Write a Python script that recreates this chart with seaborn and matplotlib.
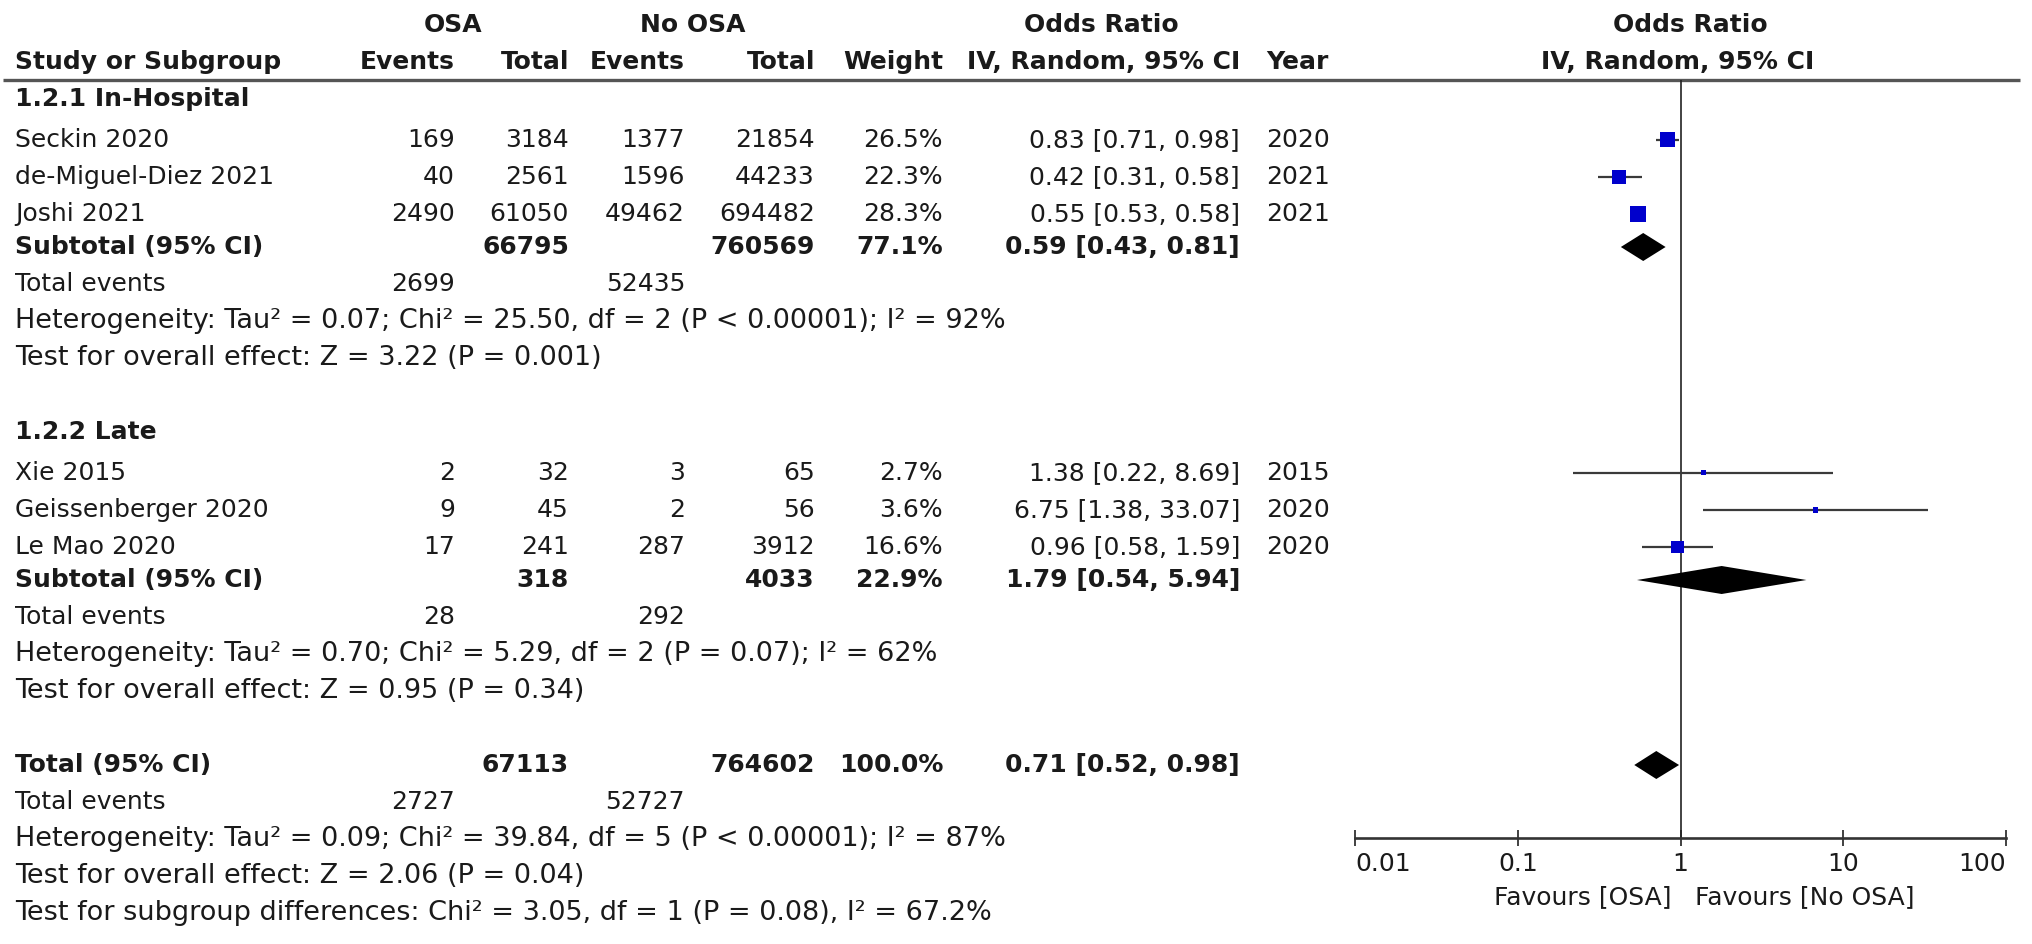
import numpy as np
import pandas as pd
import matplotlib
matplotlib.use("Agg")
import matplotlib.pyplot as plt
import seaborn as sns

# study data, subgroup 1.2.1 In-Hospital
studies1 = ["Seckin 2020", "de-Miguel-Diez 2021", "Joshi 2021"]
ev_osa1 = [169, 40, 2490]
tot_osa1 = [3184, 2561, 61050]
ev_no1 = [1377, 1596, 49462]
tot_no1 = [21854, 44233, 694482]
weight1 = [26.5, 22.3, 28.3]
or1 = [0.83, 0.42, 0.55]
lo1 = [0.71, 0.31, 0.53]
hi1 = [0.98, 0.58, 0.58]
year1 = [2020, 2021, 2021]

# subgroup 1.2.2 Late
studies2 = ["Xie 2015", "Geissenberger 2020", "Le Mao 2020"]
ev_osa2 = [2, 9, 17]
tot_osa2 = [32, 45, 241]
ev_no2 = [3, 2, 287]
tot_no2 = [65, 56, 3912]
weight2 = [2.7, 3.6, 16.6]
or2 = [1.38, 6.75, 0.96]
lo2 = [0.22, 1.38, 0.58]
hi2 = [8.69, 33.07, 1.59]
year2 = [2015, 2020, 2020]

# subtotals and overall
group_names = ["1.2.1 In-Hospital", "1.2.2 Late"]
sub_tot_osa = [66795, 318]
sub_tot_no = [760569, 4033]
sub_weight = [77.1, 22.9]
sub_or = [0.59, 1.79]
sub_lo = [0.43, 0.54]
sub_hi = [0.81, 5.94]
sub_ev_osa = [2699, 28]
sub_ev_no = [52435, 292]
sub_het = ["Heterogeneity: Tau² = 0.07; Chi² = 25.50, df = 2 (P < 0.00001); I² = 92%",
           "Heterogeneity: Tau² = 0.70; Chi² = 5.29, df = 2 (P = 0.07); I² = 62%"]
sub_test = ["Test for overall effect: Z = 3.22 (P = 0.001)",
            "Test for overall effect: Z = 0.95 (P = 0.34)"]

tot_osa = 67113
tot_no = 764602
tot_or, tot_lo, tot_hi = 0.71, 0.52, 0.98
tot_ev_osa, tot_ev_no = 2727, 52727
tot_het = "Heterogeneity: Tau² = 0.09; Chi² = 39.84, df = 5 (P < 0.00001); I² = 87%"
tot_test = "Test for overall effect: Z = 2.06 (P = 0.04)"
sub_diff = "Test for subgroup differences: Chi² = 3.05, df = 1 (P = 0.08), I² = 67.2%"

ticks = [0.01, 0.1, 1, 10, 100]
tick_labels = ["0.01", "0.1", "1", "10", "100"]

sns.set_theme(style="white")
plt.rcParams['font.family'] = ['DejaVu Sans']

W, H = 2032, 944
fig = plt.figure(figsize=(W / 100, H / 100), dpi=100)
ax0 = fig.add_axes([0, 0, 1, 1])
ax0.set_xlim(0, W)
ax0.set_ylim(H, 0)
ax0.axis("off")

FS = 18
FS_STAT = 19.5   # long statistic lines run wider in the original
TC = "#1a1a1a"
XL = 15          # left margin of the table


def row_y(k):
    # rows are evenly spaced below the header
    return 62 + 37 * k


def txt(x, y, s, ha="left", bold=False, fs=FS):
    ax0.text(x, y, s, ha=ha, va="center", fontsize=fs, color=TC,
             fontweight="bold" if bold else "normal")


# column right edges
c_ev1, c_tot1, c_ev2, c_tot2, c_w, c_or, c_yr = 455, 569, 685, 815, 943, 1240, 1266

# header
txt(453, 25, "OSA", ha="center", bold=True)
txt(693, 25, "No OSA", ha="center", bold=True)
txt(1101, 25, "Odds Ratio", ha="center", bold=True)
txt(1690, 25, "Odds Ratio", ha="center", bold=True)
txt(XL, 62, "Study or Subgroup", bold=True)
txt(c_ev1, 62, "Events", ha="right", bold=True)
txt(c_tot1, 62, "Total", ha="right", bold=True)
txt(c_ev2, 62, "Events", ha="right", bold=True)
txt(c_tot2, 62, "Total", ha="right", bold=True)
txt(c_w, 62, "Weight", ha="right", bold=True)
txt(c_or, 62, "IV, Random, 95% CI", ha="right", bold=True)
txt(c_yr, 62, "Year", bold=True)
txt(1678, 62, "IV, Random, 95% CI", ha="center", bold=True)
ax0.plot([3, 2020], [80, 80], color="#555555", lw=2.4, solid_capstyle="butt")

groups = [
    (studies1, ev_osa1, tot_osa1, ev_no1, tot_no1, weight1, or1, lo1, hi1, year1),
    (studies2, ev_osa2, tot_osa2, ev_no2, tot_no2, weight2, or2, lo2, hi2, year2),
]

recs = []
subs = []
for g, (names, e1, t1, e2, t2, w, o, lo, hi, yr) in enumerate(groups):
    base = 9 * g
    txt(XL, row_y(base + 1.0), group_names[g], bold=True)
    for i in range(len(names)):
        y = row_y(base + 2.1 + i)
        txt(XL, y, names[i])
        txt(c_ev1, y, str(e1[i]), ha="right")
        txt(c_tot1, y, str(t1[i]), ha="right")
        txt(c_ev2, y, str(e2[i]), ha="right")
        txt(c_tot2, y, str(t2[i]), ha="right")
        txt(c_w, y, f"{w[i]:.1f}%", ha="right")
        txt(c_or, y, f"{o[i]:.2f} [{lo[i]:.2f}, {hi[i]:.2f}]", ha="right")
        txt(c_yr, y, str(yr[i]))
        recs.append(dict(y=y, OR=o[i], lo=lo[i], hi=hi[i], weight=w[i]))
    y = row_y(base + 5)
    txt(XL, y, "Subtotal (95% CI)", bold=True)
    txt(c_tot1, y, str(sub_tot_osa[g]), ha="right", bold=True)
    txt(c_tot2, y, str(sub_tot_no[g]), ha="right", bold=True)
    txt(c_w, y, f"{sub_weight[g]:.1f}%", ha="right", bold=True)
    txt(c_or, y, f"{sub_or[g]:.2f} [{sub_lo[g]:.2f}, {sub_hi[g]:.2f}]",
        ha="right", bold=True)
    subs.append((y, sub_or[g], sub_lo[g], sub_hi[g]))
    y = row_y(base + 6)
    txt(XL, y, "Total events")
    txt(c_ev1, y, str(sub_ev_osa[g]), ha="right")
    txt(c_ev2, y, str(sub_ev_no[g]), ha="right")
    txt(XL, row_y(base + 7), sub_het[g], fs=FS_STAT)
    txt(XL, row_y(base + 8), sub_test[g], fs=FS_STAT)

# overall
y = row_y(19)
txt(XL, y, "Total (95% CI)", bold=True)
txt(c_tot1, y, str(tot_osa), ha="right", bold=True)
txt(c_tot2, y, str(tot_no), ha="right", bold=True)
txt(c_w, y, "100.0%", ha="right", bold=True)
txt(c_or, y, f"{tot_or:.2f} [{tot_lo:.2f}, {tot_hi:.2f}]", ha="right", bold=True)
subs.append((y, tot_or, tot_lo, tot_hi))
y = row_y(20)
txt(XL, y, "Total events")
txt(c_ev1, y, str(tot_ev_osa), ha="right")
txt(c_ev2, y, str(tot_ev_no), ha="right")
txt(XL, row_y(21), tot_het, fs=FS_STAT)
txt(XL, row_y(22), tot_test, fs=FS_STAT)
txt(XL, row_y(23), sub_diff, fs=FS_STAT)

# forest panel
x_l, x_r, y_t, y_b = 1355, 2006, 80, 838
axf = fig.add_axes([x_l / W, 1 - y_b / H, (x_r - x_l) / W, (y_b - y_t) / H])
axf.set_xscale("log")
axf.set_xlim(0.01, 100)
axf.set_ylim(y_b, y_t)
axf.patch.set_alpha(0)
for s in ["top", "left", "right"]:
    axf.spines[s].set_visible(False)
axf.spines["bottom"].set_color("#333333")
axf.spines["bottom"].set_linewidth(1.9)
axf.set_yticks([])
axf.set_xticks(ticks)
axf.set_xticks([], minor=True)
axf.set_xticklabels(tick_labels)
axf.tick_params(axis="x", which="major", direction="inout", length=12,
                width=1.3, color="#333333", labelsize=FS, labelcolor=TC, pad=4,
                bottom=True)
labs = axf.get_xticklabels()
labs[0].set_ha("left")
labs[-1].set_ha("right")
axf.grid(False)

axf.axvline(1, color="#222222", lw=1.2, zorder=1)

df = pd.DataFrame(recs)
axf.hlines(df["y"], df["lo"], df["hi"], color="#3a3a3a", lw=1.6, zorder=2)
sns.scatterplot(data=df, x="OR", y="y", size="weight", sizes=(0, 133),
                size_norm=(0, 28.3), marker="s", color="#0000CC",
                linewidth=0, legend=False, ax=axf, zorder=3)
axf.set_xlabel("")
axf.set_ylabel("")

for (y, est, lo, hi) in subs:
    axf.fill([lo, est, hi, est], [y, y - 14, y, y + 14], color="black",
             lw=0, zorder=3)

txt(1671, 897, "Favours [OSA]", ha="right")
txt(1695, 897, "Favours [No OSA]")

fig.savefig("out.png", dpi=100)
